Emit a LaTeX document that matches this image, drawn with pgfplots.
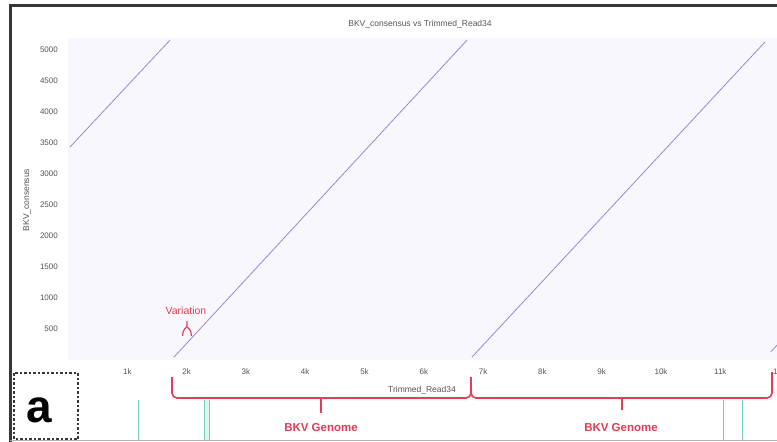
\documentclass[border=0pt]{standalone}
\usepackage{fontspec}
\setmainfont{Liberation Sans}
\usepackage{pgfplots}
\pgfplotsset{compat=1.18}

\definecolor{plotbg}{RGB}{248,247,253}
\definecolor{dotline}{RGB}{140,140,222}
\definecolor{annot}{RGB}{230,60,85}
\definecolor{panelteal}{RGB}{120,205,190}
\definecolor{framegray}{RGB}{55,55,55}
\definecolor{tickgray}{RGB}{85,85,85}

\begin{document}
\begin{tikzpicture}
\useasboundingbox (0pt,0pt) rectangle (777pt,-442pt);
\clip (0pt,0pt) rectangle (777pt,-442pt);
\fill[white] (0pt,0pt) rectangle (777pt,-442pt);

\begin{axis}[
  at={(68pt,-360pt)}, anchor=south west,
  scale only axis, width=717.53pt, height=322.4pt,
  xmin=0, xmax=12100, ymin=0, ymax=5200,
  scaled x ticks=false, scaled y ticks=false,
  axis background/.style={fill=plotbg},
  axis line style={draw=none},
  major tick length=0pt,
  xtick={1000,2000,...,12000},
  xticklabels={1k,2k,3k,4k,5k,6k,7k,8k,9k,10k,11k,12k},
  ytick={500,1000,...,5000},
  yticklabels={500,1000,1500,2000,2500,3000,3500,4000,4500,5000},
  ticklabel style={font=\fontsize{8}{9}\selectfont, text=tickgray, inner sep=0pt},
  xticklabel style={anchor=center, yshift=-12pt},
  yticklabel style={anchor=east, xshift=-10pt},
  title={BKV\_consensus vs Trimmed\_Read34},
  title style={at={(axis description cs:0.4906,1.0236)}, anchor=center,
    inner sep=0pt, font=\fontsize{8.5}{10}\selectfont, text=tickgray},
  xlabel={Trimmed\_Read34},
  xlabel style={at={(axis description cs:0.4934,-0.093)}, anchor=center,
    inner sep=0pt, font=\fontsize{8.5}{10}\selectfont, text=tickgray},
  ylabel={BKV\_consensus},
  ylabel style={at={(axis description cs:-0.0571,0.496)}, anchor=center,
    inner sep=0pt, font=\fontsize{8.5}{10}\selectfont, text=tickgray},
  clip=false,
]
% alignment diagonals of the read against the consensus
\addplot[dotline, line width=0.8pt, no marks] coordinates {(34,3435) (1720,5160)};
\addplot[dotline, line width=0.8pt, no marks] coordinates {(1788,48) (6729,5160)};
\addplot[dotline, line width=0.8pt, no marks] coordinates {(6813,48) (11754,5130)};
\addplot[dotline, line width=0.8pt, no marks] coordinates {(11850,130) (11957,240)};
\end{axis}

\begin{scope}[x=1pt,y=-1pt]
  % panel frame
  \draw[framegray, line width=3pt] (10.5,442) -- (10.5,5) -- (777,5);
  \draw[gray!60, line width=1.2pt] (10,440.5) -- (777,440.5);
  % neighbouring panel guides
  \draw[panelteal, line width=1pt] (138,400) -- (138,440);
  \fill[panelteal!25] (204,400) rectangle (209,440);
  \draw[panelteal, line width=1pt] (204,400) -- (204,440);
  \draw[panelteal, line width=1pt] (209,400) -- (209,440);
  \draw[panelteal, line width=1pt] (723,400) -- (723,440);
  \draw[panelteal, line width=1pt] (742,400) -- (742,440);
  % panel letter
  \draw[framegray, line width=1.3pt, dash pattern=on 2.5pt off 2pt] (14,373) rectangle (78,439);
  \node[inner sep=0pt, font=\fontsize{46}{50}\selectfont\bfseries] at (39,410) {a};
  % genome brackets
  \draw[annot, line width=1.6pt, rounded corners=5pt] (172,377) -- (172,398) -- (471,398) -- (471,377);
  \draw[annot, line width=1.6pt, rounded corners=5pt] (471,377) -- (471,398) -- (772,398) -- (772,372);
  \draw[annot, line width=1.6pt] (321,398) -- (321,413);
  \draw[annot, line width=1.6pt] (622,398) -- (622,410);
  \node[annot, inner sep=0pt, font=\fontsize{11.5}{13}\selectfont\bfseries] at (321,428) {BKV Genome};
  \node[annot, inner sep=0pt, font=\fontsize{11.5}{13}\selectfont\bfseries] at (621,428) {BKV Genome};
  % variation marker
  \draw[annot, line width=1.2pt, rounded corners=1.5pt] (182.5,336) -- (183.5,330) -- (187,327) -- (187,321);
  \draw[annot, line width=1.2pt, rounded corners=1.5pt] (191.5,336) -- (190.5,330) -- (187,327);
  \node[annot, inner sep=0pt, font=\fontsize{10.5}{12}\selectfont] at (186,311) {Variation};
\end{scope}
\end{tikzpicture}
\end{document}
